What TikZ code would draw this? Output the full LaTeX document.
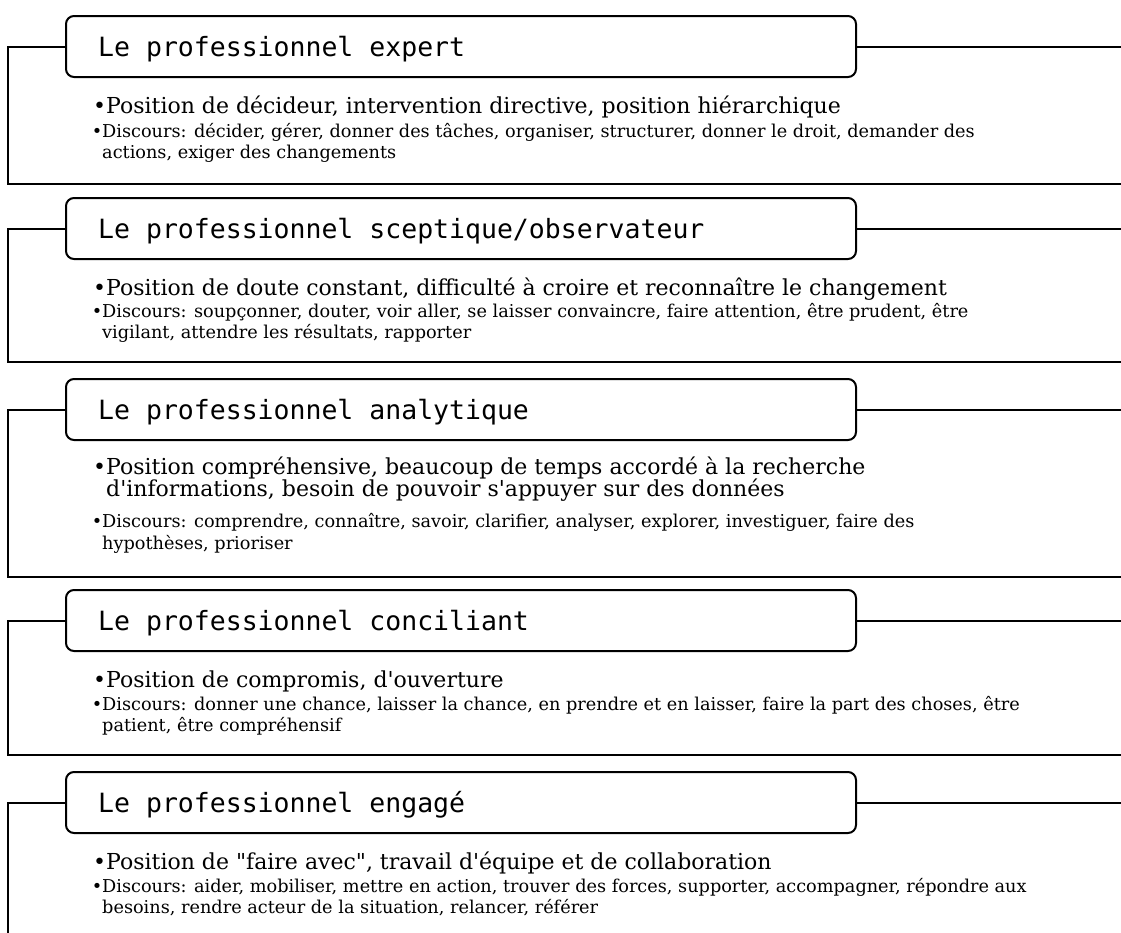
\documentclass[tikz,border=0pt]{standalone}
\usepackage{fontspec}
\newfontfamily\bodyfont{DejaVu Serif}
\newfontfamily\titlefont{DejaVu Sans Mono}
\begin{document}
\begin{tikzpicture}[x=1pt,y=-1pt,
  frame/.style={line width=2pt},
  titlebox/.style={draw, line width=2pt, rounded corners=8pt, anchor=north west,
    minimum width=790pt, minimum height=61pt, inner sep=0pt},
  titletext/.style={anchor=base west, inner sep=0pt,
    font=\titlefont\fontsize{26.5}{30}\selectfont},
  mainline/.style={anchor=base west, inner sep=0pt, font=\bodyfont\fontsize{22}{24}\selectfont},
  subline/.style={anchor=base west, inner sep=0pt, font=\bodyfont\fontsize{17.7}{20}\selectfont},
]
\useasboundingbox (0,0) rectangle (1121,932);

% ---- expert
\node[titlebox] (t1) at (65,15) {};
\node[titletext] (l1) at (98,56.5) {Le professionnel expert};
\node[mainline] (m1) at (106,113.5) {\llap{•}Position de décideur, intervention directive, position hiérarchique};
\node[subline] (s1a) at (102,137) {\llap{•}Discours: décider, gérer, donner des tâches, organiser, structurer, donner le droit, demander des};
\node[subline] (s1b) at (102,158) {actions, exiger des changements};
\coordinate (f1) at (8,184);
\coordinate (r1) at (1121,184);
\draw[frame] (t1.west) -| (f1) -- (r1);
\draw[frame] (t1.east) -- (t1.east -| r1);

% ---- sceptique
\node[titlebox] (t2) at (65,197) {};
\node[titletext] (l2) at (98,238.5) {Le professionnel sceptique/observateur};
\node[mainline] (m2) at (106,295) {\llap{•}Position de doute constant, difficulté à croire et reconnaître le changement};
\node[subline] (s2a) at (102,317.5) {\llap{•}Discours: soupçonner, douter, voir aller, se laisser convaincre, faire attention, être prudent, être};
\node[subline] (s2b) at (102,338.5) {vigilant, attendre les résultats, rapporter};
\coordinate (f2) at (8,362);
\coordinate (r2) at (1121,362);
\draw[frame] (t2.west) -| (f2) -- (r2);
\draw[frame] (t2.east) -- (t2.east -| r2);

% ---- analytique
\node[titlebox] (t3) at (65,378) {};
\node[titletext] (l3) at (98,419.5) {Le professionnel analytique};
\node[mainline] (m3a) at (106,474) {\llap{•}Position compréhensive, beaucoup de temps accordé à la recherche};
\node[mainline] (m3b) at (106,496) {d'informations, besoin de pouvoir s'appuyer sur des données};
\node[subline] (s3a) at (102,527.5) {\llap{•}Discours: comprendre, connaître, savoir, clarifier, analyser, explorer, investiguer, faire des};
\node[subline] (s3b) at (102,549) {hypothèses, prioriser};
\coordinate (f3) at (8,577);
\coordinate (r3) at (1121,577);
\draw[frame] (t3.west) -| (f3) -- (r3);
\draw[frame] (t3.east) -- (t3.east -| r3);

% ---- conciliant
\node[titlebox] (t4) at (65,589) {};
\node[titletext] (l4) at (98,630.5) {Le professionnel conciliant};
\node[mainline] (m4) at (106,687) {\llap{•}Position de compromis, d'ouverture};
\node[subline] (s4a) at (102,710) {\llap{•}Discours: donner une chance, laisser la chance, en prendre et en laisser, faire la part des choses, être};
\node[subline] (s4b) at (102,731) {patient, être compréhensif};
\coordinate (f4) at (8,755);
\coordinate (r4) at (1121,755);
\draw[frame] (t4.west) -| (f4) -- (r4);
\draw[frame] (t4.east) -- (t4.east -| r4);

% ---- engagé
\node[titlebox] (t5) at (65,771) {};
\node[titletext] (l5) at (98,812.5) {Le professionnel engagé};
\node[mainline] (m5) at (106,869) {\llap{•}Position de "faire avec", travail d'équipe et de collaboration};
\node[subline] (s5a) at (102,892) {\llap{•}Discours: aider, mobiliser, mettre en action, trouver des forces, supporter, accompagner, répondre aux};
\node[subline] (s5b) at (102,913) {besoins, rendre acteur de la situation, relancer, référer};
\coordinate (f5) at (8,940);
\coordinate (r5) at (1121,940);
\draw[frame] (t5.west) -| (f5);
\draw[frame] (t5.east) -- (t5.east -| r5);
\end{tikzpicture}
\end{document}
